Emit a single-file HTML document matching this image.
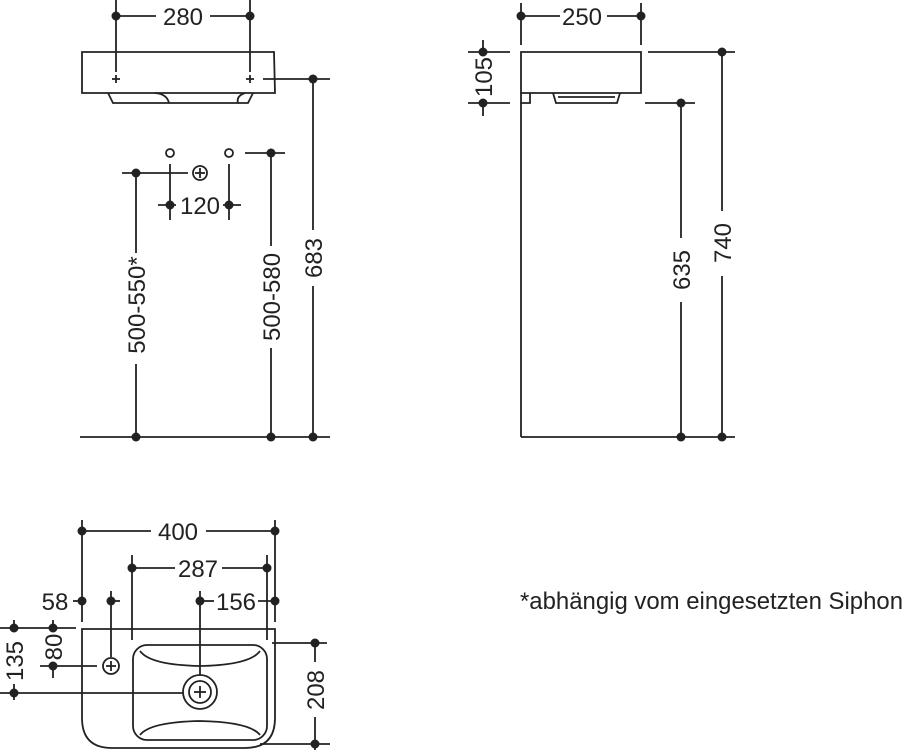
<!DOCTYPE html>
<html><head><meta charset="utf-8"><style>
html,body{margin:0;padding:0;background:#fff;}
svg{display:block;}
text{font-family:"Liberation Sans",sans-serif;font-size:24px;fill:#222;}
</style></head><body>
<svg width="904" height="750" viewBox="0 0 904 750" xmlns="http://www.w3.org/2000/svg">
<g stroke="#222" stroke-width="1.8" fill="none">
<path d="M82 52 H274 L275 93 H82 Z"/>
<path d="M108 93 L113 103 H248 L253 93"/>
<path d="M155 93 Q167 94 169 103 M238 103 Q236 96 245 93"/>
<line x1="116" y1="0" x2="116" y2="72"/><line x1="250" y1="0" x2="250" y2="72"/>
<line x1="116" y1="16" x2="156" y2="16"/><line x1="210" y1="16" x2="250" y2="16"/>
<line x1="112" y1="79" x2="120" y2="79"/><line x1="116" y1="75" x2="116" y2="83"/>
<line x1="246" y1="79" x2="254" y2="79"/><line x1="250" y1="75" x2="250" y2="83"/>
<line x1="263" y1="79" x2="330" y2="79"/>
<line x1="313" y1="79" x2="313" y2="230"/><line x1="313" y1="286" x2="313" y2="437"/>
<circle cx="170" cy="153" r="4"/><circle cx="229" cy="153" r="4"/>
<circle cx="200" cy="173" r="7"/><line x1="195" y1="173" x2="205" y2="173"/><line x1="200" y1="168" x2="200" y2="178"/>
<line x1="122" y1="173" x2="188" y2="173"/>
<line x1="136" y1="173" x2="136" y2="253"/><line x1="136" y1="364" x2="136" y2="437"/>
<line x1="170" y1="164" x2="170" y2="220"/><line x1="229" y1="164" x2="229" y2="220"/>
<line x1="158" y1="205" x2="176" y2="205"/><line x1="223" y1="205" x2="241" y2="205"/>
<line x1="245" y1="153" x2="285" y2="153"/>
<line x1="271" y1="153" x2="271" y2="246"/><line x1="271" y1="348" x2="271" y2="437"/>
<line x1="80" y1="437" x2="330" y2="437"/>
<path d="M521 52 H641 V93 H521 Z"/>
<path d="M521 93 V103 H530 V93"/>
<path d="M553 93 L556 103 H617 L620 93 M558 97 H615"/>
<line x1="521" y1="3" x2="521" y2="45"/><line x1="641" y1="3" x2="641" y2="45"/>
<line x1="521" y1="16" x2="560" y2="16"/><line x1="607" y1="16" x2="641" y2="16"/>
<line x1="468" y1="52" x2="510" y2="52"/><line x1="468" y1="103" x2="510" y2="103"/>
<line x1="483" y1="40" x2="483" y2="56"/><line x1="483" y1="99" x2="483" y2="116"/>
<line x1="648" y1="52" x2="735" y2="52"/>
<line x1="722" y1="52" x2="722" y2="211"/><line x1="722" y1="276" x2="722" y2="437"/>
<line x1="645" y1="103" x2="695" y2="103"/>
<line x1="681" y1="103" x2="681" y2="238"/><line x1="681" y1="302" x2="681" y2="437"/>
<line x1="521" y1="103" x2="521" y2="437"/>
<line x1="521" y1="437" x2="735" y2="437"/>
<path d="M82 629 H275 V718 Q275 748 245 748 H112 Q82 748 82 718 Z"/>
<rect x="133" y="645" width="134" height="95" rx="14"/>
<path d="M140 651 Q150 665 200 666 Q250 665 260 651"/>
<path d="M140 735 Q150 722 200 721 Q250 722 260 735"/>
<circle cx="200" cy="692" r="17"/><circle cx="200" cy="692" r="11"/>
<line x1="194" y1="692" x2="206" y2="692"/><line x1="200" y1="686" x2="200" y2="698"/>
<circle cx="111" cy="666" r="8"/><line x1="106" y1="666" x2="116" y2="666"/><line x1="111" y1="661" x2="111" y2="671"/>
<line x1="82" y1="520" x2="82" y2="622"/><line x1="275" y1="520" x2="275" y2="622"/>
<line x1="82" y1="531" x2="151" y2="531"/><line x1="206" y1="531" x2="275" y2="531"/>
<line x1="132" y1="555" x2="132" y2="640"/><line x1="267" y1="555" x2="267" y2="640"/>
<line x1="132" y1="568" x2="175" y2="568"/><line x1="222" y1="568" x2="267" y2="568"/>
<line x1="73" y1="601" x2="82" y2="601"/>
<line x1="111" y1="591" x2="111" y2="657"/><line x1="111" y1="601" x2="120" y2="601"/>
<line x1="200" y1="591" x2="200" y2="675"/><line x1="200" y1="601" x2="214" y2="601"/>
<line x1="258" y1="601" x2="275" y2="601"/>
<line x1="0" y1="628" x2="76" y2="628"/>
<line x1="14" y1="620" x2="14" y2="632"/><line x1="14" y1="684" x2="14" y2="700"/>
<line x1="0" y1="693" x2="183" y2="693"/>
<line x1="53" y1="620" x2="53" y2="630"/><line x1="53" y1="662" x2="53" y2="678"/>
<line x1="40" y1="666" x2="97" y2="666"/>
<line x1="272" y1="643" x2="327" y2="643"/>
<line x1="315" y1="643" x2="315" y2="662"/><line x1="315" y1="717" x2="315" y2="750"/>
<line x1="260" y1="744" x2="330" y2="744"/>
</g>
<g fill="#222">
<circle cx="116" cy="16" r="4.5"/><circle cx="250" cy="16" r="4.5"/><circle cx="313" cy="79" r="4.5"/>
<circle cx="136" cy="173" r="4.5"/><circle cx="170" cy="205" r="4.5"/><circle cx="229" cy="205" r="4.5"/>
<circle cx="271" cy="153" r="4.5"/><circle cx="136" cy="437" r="4.5"/><circle cx="271" cy="437" r="4.5"/><circle cx="313" cy="437" r="4.5"/>
<circle cx="521" cy="16" r="4.5"/><circle cx="641" cy="16" r="4.5"/><circle cx="483" cy="52" r="4.5"/><circle cx="483" cy="103" r="4.5"/>
<circle cx="722" cy="52" r="4.5"/><circle cx="681" cy="103" r="4.5"/><circle cx="681" cy="437" r="4.5"/><circle cx="722" cy="437" r="4.5"/>
<circle cx="82" cy="531" r="4.5"/><circle cx="275" cy="531" r="4.5"/><circle cx="132" cy="568" r="4.5"/><circle cx="267" cy="568" r="4.5"/>
<circle cx="82" cy="601" r="4.5"/><circle cx="111" cy="601" r="4.5"/><circle cx="200" cy="601" r="4.5"/><circle cx="275" cy="601" r="4.5"/>
<circle cx="14" cy="628" r="4.5"/><circle cx="53" cy="628" r="4.5"/><circle cx="53" cy="666" r="4.5"/><circle cx="14" cy="693" r="4.5"/>
<circle cx="315" cy="643" r="4.5"/><circle cx="315" cy="744" r="4.5"/>
</g>
<text x="183" y="25" text-anchor="middle">280</text>
<text x="200" y="214" text-anchor="middle">120</text>
<text transform="translate(322,258) rotate(-90)" text-anchor="middle">683</text>
<text transform="translate(145,305) rotate(-90)" text-anchor="middle">500-550*</text>
<text transform="translate(280,297) rotate(-90)" text-anchor="middle">500-580</text>
<text x="582" y="25" text-anchor="middle">250</text>
<text transform="translate(492,77) rotate(-90)" text-anchor="middle">105</text>
<text transform="translate(731,243) rotate(-90)" text-anchor="middle">740</text>
<text transform="translate(690,270) rotate(-90)" text-anchor="middle">635</text>
<text x="178" y="540" text-anchor="middle">400</text>
<text x="198" y="577" text-anchor="middle">287</text>
<text x="55" y="610" text-anchor="middle">58</text>
<text x="236" y="610" text-anchor="middle">156</text>
<text transform="translate(23,661) rotate(-90)" text-anchor="middle">135</text>
<text transform="translate(62,647) rotate(-90)" text-anchor="middle">80</text>
<text transform="translate(324,690) rotate(-90)" text-anchor="middle">208</text>
<text x="520" y="609" style="font-size:24px" textLength="383" lengthAdjust="spacingAndGlyphs">*abhängig vom eingesetzten Siphon</text>
</svg>
</body></html>
